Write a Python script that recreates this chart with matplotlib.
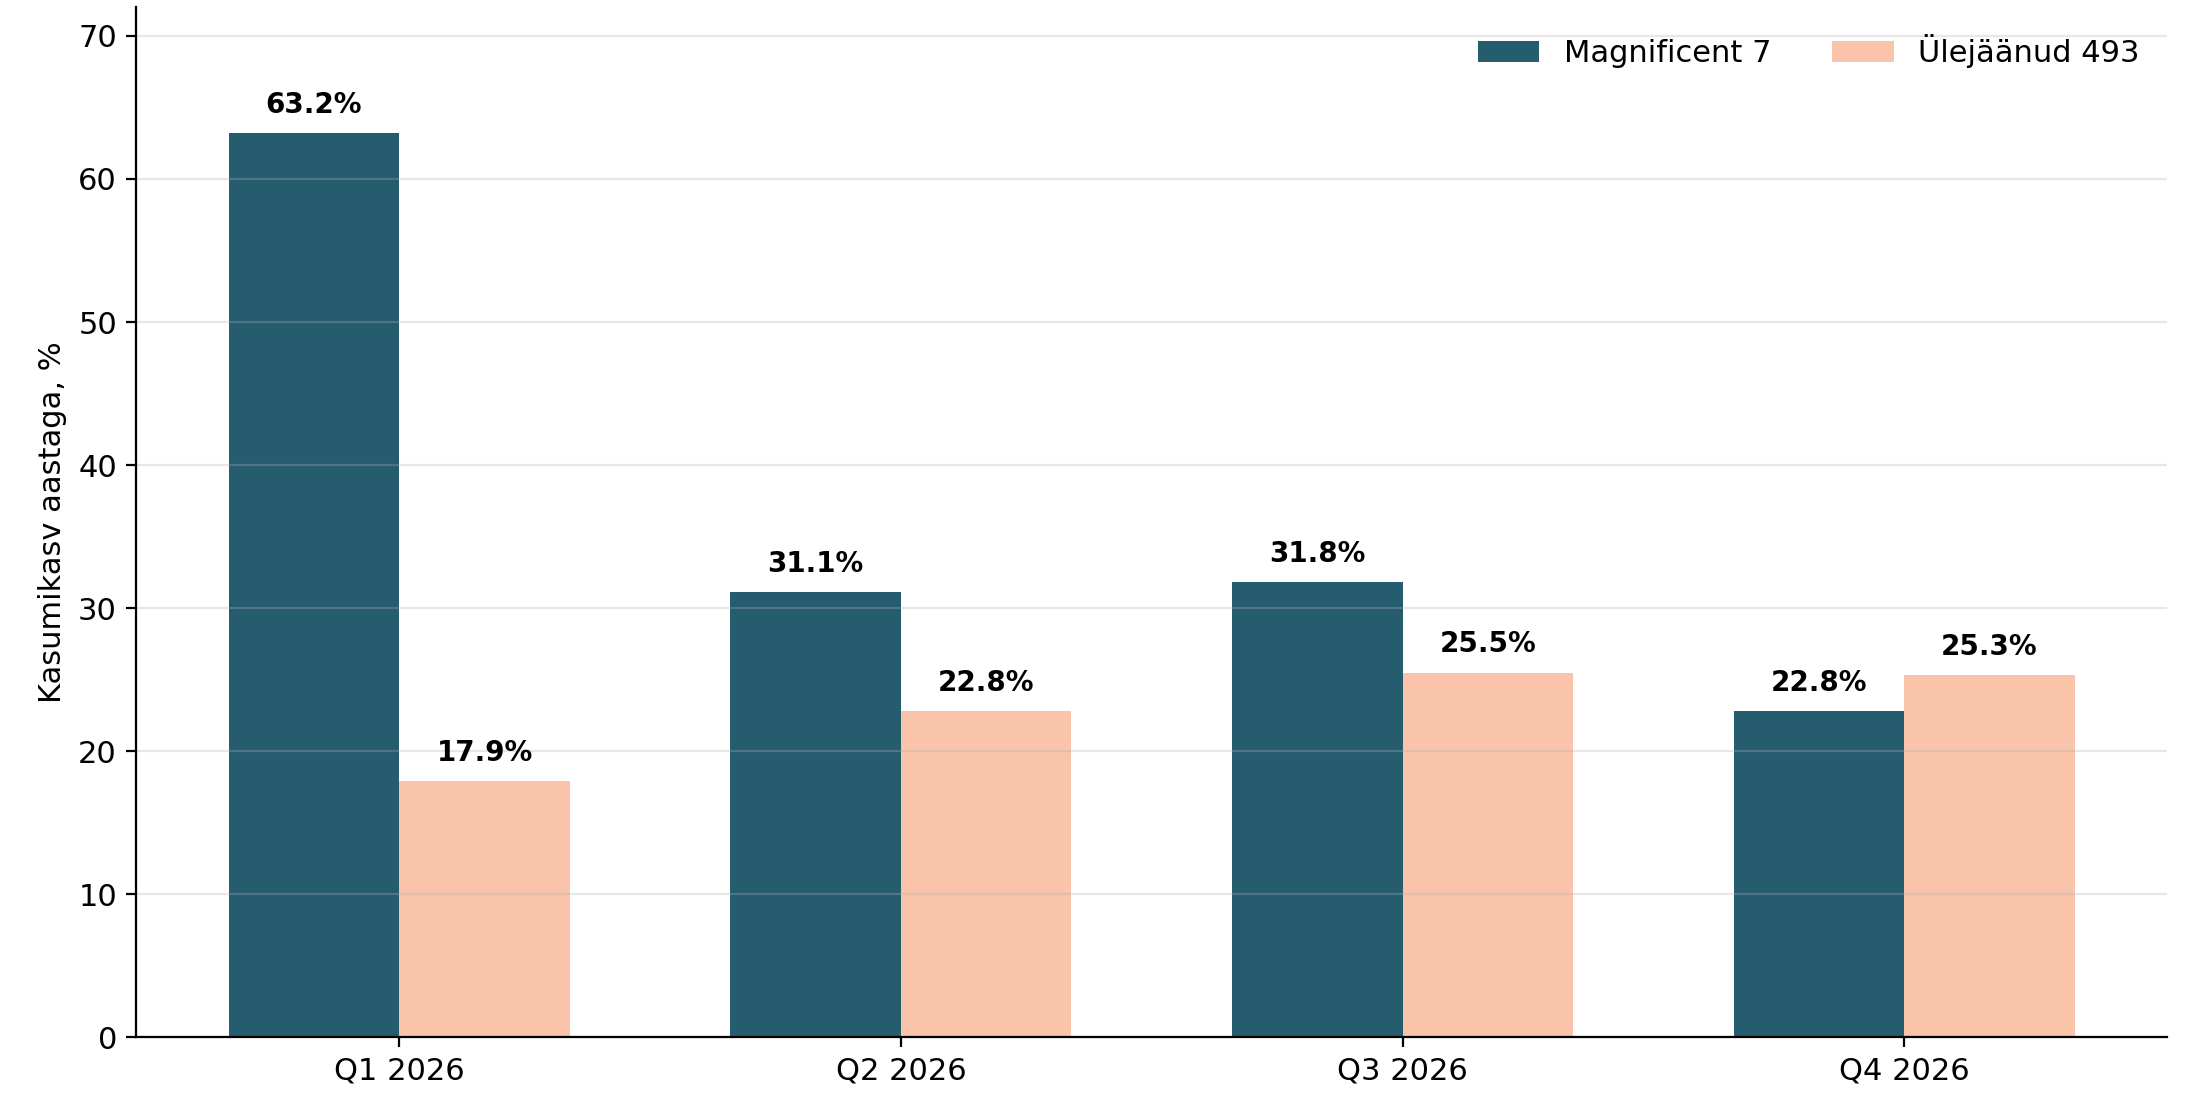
import numpy as np
import matplotlib
matplotlib.use('Agg')
import matplotlib.pyplot as plt

quarters = ['Q1 2026', 'Q2 2026', 'Q3 2026', 'Q4 2026']
mag7 = [63.2, 31.1, 31.8, 22.8]
rest = [17.9, 22.8, 25.5, 25.3]
series_names = ['Magnificent 7', 'Ülejäänud 493']
colors = ['#255C6E', '#F9C4AA']

x = np.arange(len(quarters))
width = 0.34

fig, ax = plt.subplots(figsize=(11, 5.5), dpi=200)
b1 = ax.bar(x - width / 2, mag7, width, color=colors[0], label=series_names[0])
b2 = ax.bar(x + width / 2, rest, width, color=colors[1], label=series_names[1])

for bars, vals in [(b1, mag7), (b2, rest)]:
    for bar, v in zip(bars, vals):
        ax.text(bar.get_x() + bar.get_width() / 2, v + 1, f'{v:.1f}%',
                ha='center', va='bottom', fontsize=10, fontweight='bold')

ax.set_xticks(x)
ax.set_xticklabels(quarters, fontsize=11)
ax.tick_params(axis='y', labelsize=11)
ax.set_ylabel('Kasumikasv aastaga, %', fontsize=11)
ax.set_ylim(0, max(mag7) * 1.14)
ax.grid(axis='y', alpha=0.3)
ax.spines['top'].set_visible(False)
ax.spines['right'].set_visible(False)
ax.legend(loc='upper right', ncol=2, frameon=False, fontsize=11)

plt.subplots_adjust(left=0.062, right=0.985, bottom=0.057, top=0.994)
plt.savefig('out.png')
